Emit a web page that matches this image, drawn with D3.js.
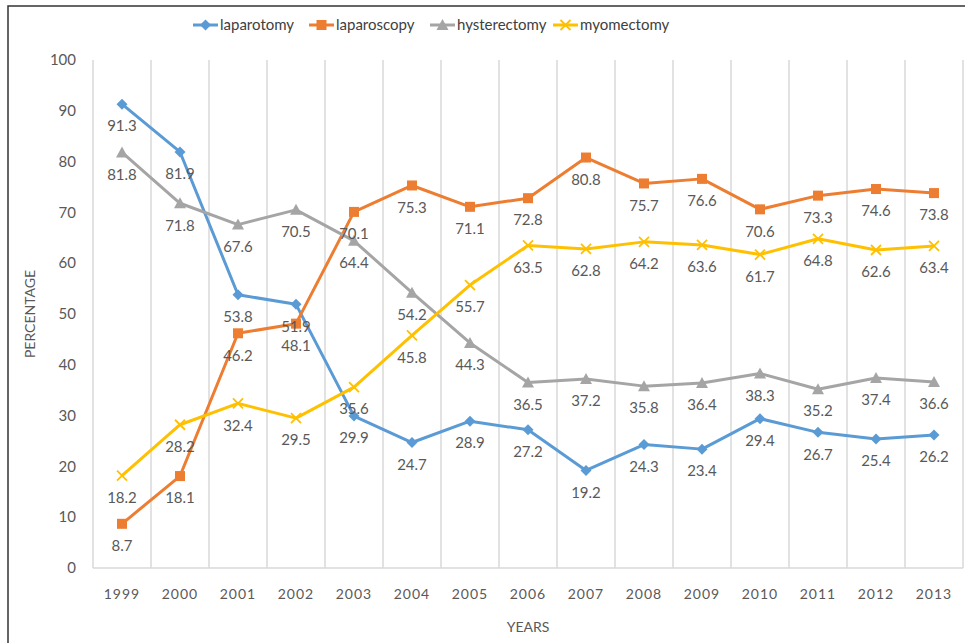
<!DOCTYPE html>
<html>
<head>
<meta charset="utf-8">
<script src="https://cdn.jsdelivr.net/npm/d3@7"></script>
<style>
  body { margin: 0; background: #fff; }
  svg { font-family: Lato, "Open Sans", sans-serif; }
</style>
</head>
<body>
<svg id="chart" width="965" height="643"></svg>
<script>
// data
const years = ["1999","2000","2001","2002","2003","2004","2005","2006","2007","2008","2009","2010","2011","2012","2013"]
const laparotomy = [91.3, 81.9, 53.8, 51.9, 29.9, 24.7, 28.9, 27.2, 19.2, 24.3, 23.4, 29.4, 26.7, 25.4, 26.2]
const laparoscopy = [8.7, 18.1, 46.2, 48.1, 70.1, 75.3, 71.1, 72.8, 80.8, 75.7, 76.6, 70.6, 73.3, 74.6, 73.8]
const hysterectomy = [81.8, 71.8, 67.6, 70.5, 64.4, 54.2, 44.3, 36.5, 37.2, 35.8, 36.4, 38.3, 35.2, 37.4, 36.6]
const myomectomy = [18.2, 28.2, 32.4, 29.5, 35.6, 45.8, 55.7, 63.5, 62.8, 64.2, 63.6, 61.7, 64.8, 62.6, 63.4]
const yTicks = [0, 10, 20, 30, 40, 50, 60, 70, 80, 90, 100]

const series = [
  { name: "laparotomy", values: laparotomy, color: "#5B9BD5", marker: "diamond" },
  { name: "laparoscopy", values: laparoscopy, color: "#ED7D31", marker: "square" },
  { name: "hysterectomy", values: hysterectomy, color: "#A5A5A5", marker: "triangle" },
  { name: "myomectomy", values: myomectomy, color: "#FFC000", marker: "x" },
]

const svg = d3.select("#chart")
const plotLeft = 93, plotRight = 963, plotTop = 60, plotBottom = 568

// frame
svg.append("path")
  .attr("d", "M8,643 V6 H965")
  .attr("fill", "none")
  .attr("stroke", "#333")
  .attr("stroke-width", 1.5)

const x = d3.scaleBand().domain(years).range([plotLeft, plotRight])
const y = d3.scaleLinear().domain([0, 100]).range([plotBottom, plotTop])

// vertical grid
svg.append("g")
  .selectAll("line")
  .data(d3.range(years.length + 1))
  .join("line")
  .attr("x1", (i) => plotLeft + i * x.bandwidth())
  .attr("x2", (i) => plotLeft + i * x.bandwidth())
  .attr("y1", y(100))
  .attr("y2", y(0))
  .attr("stroke", "#d9d9d9")
  .attr("stroke-width", 1.5)

svg.append("line")
  .attr("x1", plotLeft).attr("x2", plotRight)
  .attr("y1", y(0)).attr("y2", y(0))
  .attr("stroke", "#d9d9d9")
  .attr("stroke-width", 1.5)

// y axis labels
svg.append("g")
  .selectAll("text")
  .data(yTicks)
  .join("text")
  .attr("x", 76)
  .attr("y", (d) => y(d))
  .attr("dy", "0.35em")
  .attr("text-anchor", "end")
  .attr("font-size", 15)
  .attr("fill", "#595959")
  .text((d) => d)

// x axis labels
svg.append("g")
  .selectAll("text")
  .data(years)
  .join("text")
  .attr("x", (d) => x(d) + x.bandwidth() / 2)
  .attr("y", 594)
  .attr("dy", "0.35em")
  .attr("text-anchor", "middle")
  .attr("font-size", 14)
  .attr("letter-spacing", 1)
  .attr("fill", "#595959")
  .text((d) => d)

// axis titles
svg.append("text")
  .attr("transform", "translate(30," + (plotTop + plotBottom) / 2 + ") rotate(-90)")
  .attr("text-anchor", "middle")
  .attr("dy", "0.35em")
  .attr("font-size", 14)
  .attr("fill", "#595959")
  .text("PERCENTAGE")

svg.append("text")
  .attr("x", (plotLeft + plotRight) / 2)
  .attr("y", 627)
  .attr("dy", "0.35em")
  .attr("text-anchor", "middle")
  .attr("font-size", 14)
  .attr("fill", "#595959")
  .text("YEARS")

function drawMarker(g, type, color) {
  if (type === "diamond") {
    g.append("path").attr("d", "M0,-5.5 L5.5,0 L0,5.5 L-5.5,0 Z").attr("fill", color)
  } else if (type === "square") {
    g.append("rect").attr("x", -5).attr("y", -5).attr("width", 10).attr("height", 10).attr("fill", color)
  } else if (type === "triangle") {
    g.append("path").attr("d", "M0,-6 L6,5 L-6,5 Z").attr("fill", color)
  } else {
    g.append("path").attr("d", "M-5,-5 L5,5 M5,-5 L-5,5")
      .attr("stroke", color).attr("stroke-width", 1.8).attr("fill", "none")
  }
}

const line = d3.line()
  .x((d, i) => x(years[i]) + x.bandwidth() / 2)
  .y((d) => y(d))

series.forEach((s) => {
  svg.append("path")
    .datum(s.values)
    .attr("d", line)
    .attr("fill", "none")
    .attr("stroke", s.color)
    .attr("stroke-width", 3)
    .attr("stroke-linejoin", "round")
})

series.forEach((s) => {
  s.values.forEach((v, i) => {
    const g = svg.append("g")
      .attr("transform", "translate(" + (x(years[i]) + x.bandwidth() / 2) + "," + y(v) + ")")
    drawMarker(g, s.marker, s.color)
  })
})

// data labels (below points)
series.forEach((s) => {
  svg.append("g")
    .selectAll("text")
    .data(s.values)
    .join("text")
    .attr("x", (d, i) => x(years[i]) + x.bandwidth() / 2)
    .attr("y", (d) => y(d) + 22)
    .attr("dy", "0.35em")
    .attr("text-anchor", "middle")
    .attr("font-size", 15)
    .attr("fill", "#595959")
    .text((d) => d.toFixed(1))
})

// legend
const legendX = [193, 309, 430, 553]
series.forEach((s, i) => {
  const g = svg.append("g").attr("transform", "translate(" + legendX[i] + ",25)")
  g.append("line").attr("x1", 0).attr("x2", 25).attr("stroke", s.color).attr("stroke-width", 3)
  const m = g.append("g").attr("transform", "translate(12.5,0)")
  drawMarker(m, s.marker, s.color)
  g.append("text")
    .attr("x", 27)
    .attr("dy", "0.35em")
    .attr("font-size", 15)
    .attr("fill", "#404040")
    .text(s.name)
})
</script>
</body>
</html>
